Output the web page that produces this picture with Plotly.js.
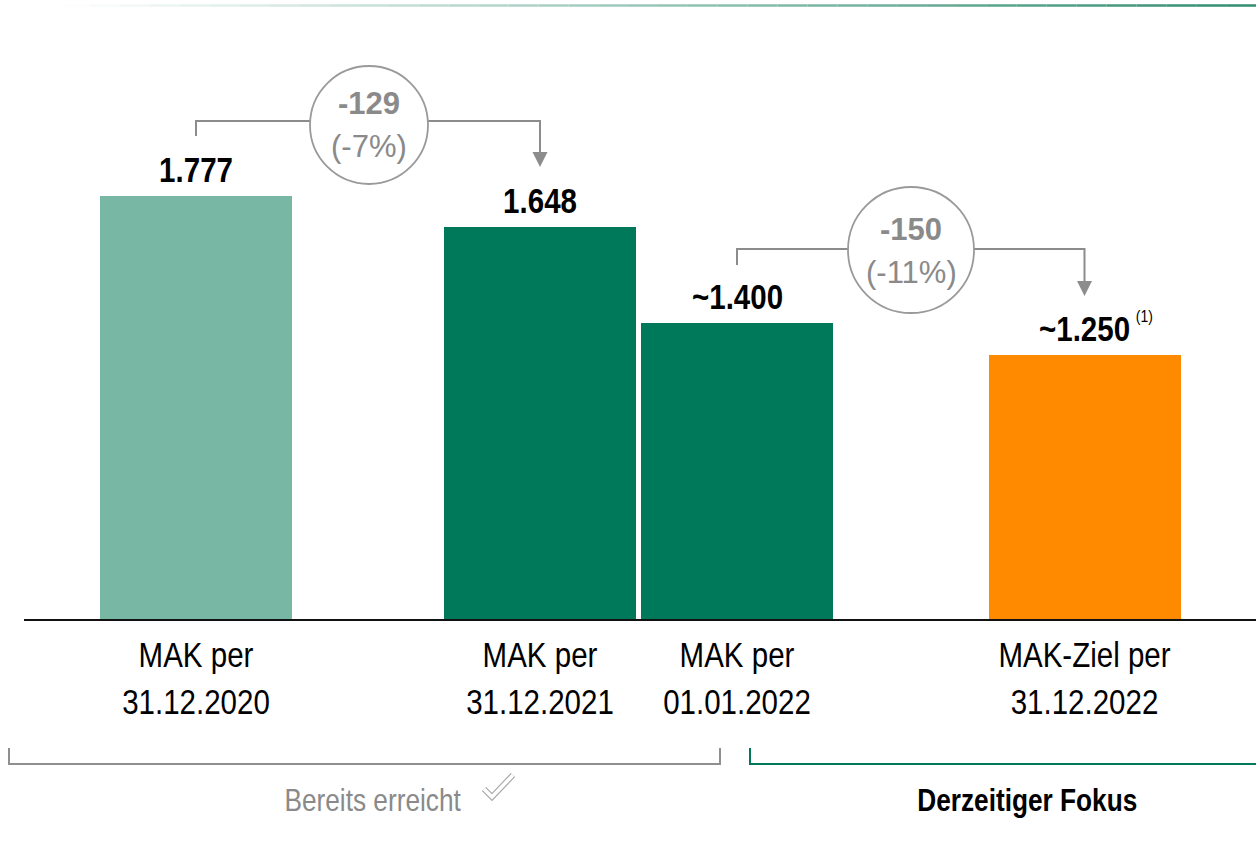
<!DOCTYPE html>
<html>
<head>
<meta charset="utf-8">
<script src="https://cdn.plot.ly/plotly-3.0.1.min.js"></script>
<style>
  html, body { margin: 0; padding: 0; background: #ffffff; }
  #chart { width: 1256px; height: 849px; }
</style>
</head>
<body>
<div id="chart"></div>
<script>
// ---------- DATA ----------
const categories = ["MAK per<br>31.12.2020", "MAK per<br>31.12.2021", "MAK per<br>01.01.2022", "MAK-Ziel per<br>31.12.2022"];
const headcount = [1777, 1648, 1400, 1250];
const approximate = [false, false, true, true];
const footnotes = ["", "", "", "(1)"];
const groupLabels = ["Bereits erreicht", "Derzeitiger Fokus"];

// ---------- LAYOUT / STYLE ----------
const W = 1256, H = 849;
const M = { l: 0, r: 0, t: 19, b: 230 };
const plotH = H - M.t - M.b;           // 600
const baseY = H - M.b;                  // 619 px
const slots = [196, 540, 737, 1084.5];  // bar centres (x axis units = px)
const barWidth = 192;
const axisOf = ["y", "y", "y2", "y2"];  // bars 3-4 drawn on a second scale, as in the original
const barColors = ["#79b7a5", "#00785a", "#00785a", "#ff8a00"];
const NARROW = "'Liberation Sans Narrow', 'Arial Narrow', 'Liberation Sans', Arial, sans-serif";
const REG = "'Liberation Sans', Arial, sans-serif";
const CONDENSE = 0.82;                  // horizontal squeeze to imitate a narrow face
const GREY_TXT = "#8a8a8a";
const GREY_LINE = "#8c8c8c";
const GREEN = "#00785a";

const py = p => (baseY - p) / plotH;   // pixel row -> paper y

function fmtDE(v) {
  return String(Math.round(Math.abs(v))).replace(/\B(?=(\d{3})+(?!\d))/g, ".");
}

// traces
const traces = [];
["y", "y2"].forEach(ax => {
  const idx = headcount.map((_, i) => i).filter(i => axisOf[i] === ax);
  traces.push({
    type: "bar",
    x: idx.map(i => slots[i]),
    y: idx.map(i => headcount[i]),
    width: idx.map(() => barWidth),
    yaxis: ax,
    marker: { color: idx.map(i => barColors[i]), line: { width: 0 } },
    hoverinfo: "skip",
    showlegend: false
  });
});

const annotations = [];
// value labels
headcount.forEach((v, i) => {
  annotations.push({
    x: slots[i], y: v, xref: "x", yref: axisOf[i],
    text: "<b>" + (approximate[i] ? "~" : "") + fmtDE(v) + "</b>",
    showarrow: false, yanchor: "bottom", xanchor: "center", yshift: 4,
    font: { family: NARROW, size: 36, color: "#000000" }
  });
  if (footnotes[i]) {
    annotations.push({
      x: slots[i] + 60, y: py(316), xref: "x", yref: "paper",
      text: footnotes[i], showarrow: false, xanchor: "center", yanchor: "middle",
      font: { family: NARROW, size: 17, color: "#000000" }
    });
  }
});

// change bubbles
const bubbles = [
  { from: 0, to: 1, cx: 369, cy: 125, r: 59, lineY: 121, leftTop: 136, tipY: 167, topLine: 103, botLine: 146 },
  { from: 2, to: 3, cx: 911, cy: 250, r: 63, lineY: 249, leftTop: 265, tipY: 296, topLine: 229, botLine: 272 }
];
const shapes = [];

// faint gradient rule at the top
const segN = 40, gx0 = 60, gx1 = 1256;
const c0 = [255, 255, 255], c1 = [46, 139, 110];
for (let k = 0; k < segN; k++) {
  const t = (k + 0.5) / segN;
  const c = c0.map((a, j) => Math.round(a + (c1[j] - a) * t));
  shapes.push({
    type: "line", xref: "x", yref: "paper",
    x0: gx0 + (gx1 - gx0) * k / segN, x1: gx0 + (gx1 - gx0) * (k + 1) / segN,
    y0: py(5.5), y1: py(5.5),
    line: { color: `rgb(${c[0]},${c[1]},${c[2]})`, width: 2.5 }, layer: "above"
  });
}

bubbles.forEach(b => {
  const xL = slots[b.from], xR = slots[b.to];
  shapes.push({
    type: "path", xref: "x", yref: "paper",
    path: `M ${xL} ${py(b.leftTop)} L ${xL} ${py(b.lineY)} L ${xR} ${py(b.lineY)} L ${xR} ${py(b.tipY - 14)}`,
    line: { color: GREY_LINE, width: 2 }, layer: "above"
  });
  shapes.push({
    type: "path", xref: "x", yref: "paper",
    path: `M ${xR - 7.5} ${py(b.tipY - 15)} L ${xR + 7.5} ${py(b.tipY - 15)} L ${xR} ${py(b.tipY)} Z`,
    fillcolor: GREY_LINE, line: { color: GREY_LINE, width: 0 }, layer: "above"
  });
  shapes.push({
    type: "circle", xref: "x", yref: "paper",
    x0: b.cx - b.r, x1: b.cx + b.r, y0: py(b.cy + b.r), y1: py(b.cy - b.r),
    fillcolor: "#ffffff", line: { color: "#9a9a9a", width: 1.8 }, layer: "above"
  });
  const d = headcount[b.to] - headcount[b.from];
  const pct = Math.round(d / headcount[b.from] * 100);
  annotations.push({
    x: b.cx, y: py(b.topLine), xref: "x", yref: "paper",
    text: "<b>" + (d < 0 ? "-" : "+") + fmtDE(d) + "</b>", showarrow: false,
    xanchor: "center", yanchor: "middle",
    font: { family: REG, size: 31, color: GREY_TXT }
  });
  annotations.push({
    x: b.cx, y: py(b.botLine), xref: "x", yref: "paper",
    text: "(" + (pct < 0 ? "-" : "+") + Math.abs(pct) + "%)", showarrow: false,
    xanchor: "center", yanchor: "middle",
    font: { family: REG, size: 31, color: GREY_TXT }
  });
});

// baseline
shapes.push({
  type: "line", xref: "x", yref: "paper", x0: 24, x1: 1256, y0: py(620), y1: py(620),
  line: { color: "#111111", width: 2 }, layer: "above"
});

// group brackets
shapes.push({
  type: "path", xref: "x", yref: "paper",
  path: `M 9 ${py(748)} L 9 ${py(764)} L 720 ${py(764)} L 720 ${py(748)}`,
  line: { color: "#8f8f8f", width: 2 }
});
shapes.push({
  type: "path", xref: "x", yref: "paper",
  path: `M 750 ${py(748)} L 750 ${py(764)} L 1256 ${py(764)}`,
  line: { color: GREEN, width: 2 }
});
// check mark (outlined)
const tick = `M 484 ${py(789)} L 492 ${py(797)} L 513 ${py(775)}`;
shapes.push({ type: "path", xref: "x", yref: "paper", path: tick, line: { color: "#a9a9a9", width: 6 } });
shapes.push({ type: "path", xref: "x", yref: "paper", path: tick, line: { color: "#ffffff", width: 3.6 } });

annotations.push({
  x: 372, y: py(800), xref: "x", yref: "paper", text: groupLabels[0], showarrow: false,
  xanchor: "center", yanchor: "middle", font: { family: NARROW, size: 32, color: GREY_TXT }
});
annotations.push({
  x: 1027, y: py(800), xref: "x", yref: "paper", text: "<b>" + groupLabels[1] + "</b>", showarrow: false,
  xanchor: "center", yanchor: "middle", font: { family: NARROW, size: 32, color: "#000000" }
});

const layout = {
  width: W, height: H,
  margin: M,
  paper_bgcolor: "#ffffff", plot_bgcolor: "#ffffff",
  showlegend: false,
  bargap: 0,
  barmode: "overlay",
  xaxis: {
    range: [0, W], fixedrange: true,
    tickmode: "array", tickvals: slots, ticktext: categories,
    tickfont: { family: NARROW, size: 36, color: "#000000" },
    showgrid: false, zeroline: false, showline: false, ticks: "",
    ticklabelstandoff: 11
  },
  yaxis: { range: [0, plotH / 0.2380], visible: false, fixedrange: true },
  yaxis2: { range: [0, plotH / 0.2113], overlaying: "y", visible: false, fixedrange: true },
  shapes: shapes,
  annotations: annotations
};

Plotly.newPlot("chart", traces, layout, { staticPlot: true, displayModeBar: false }).then(gd => {
  // squeeze the "narrow" texts horizontally around their own centre
  gd.querySelectorAll("text").forEach(el => {
    const ff = (el.style && el.style.fontFamily) || el.getAttribute("font-family") || "";
    if (ff.indexOf("Narrow") < 0) return;
    const bb = el.getBBox();
    const cx = bb.x + bb.width / 2;
    const prev = el.getAttribute("transform") || "";
    el.setAttribute("transform",
      `${prev} translate(${cx},0) scale(${CONDENSE},1) translate(${-cx},0)`.trim());
  });
});
</script>
</body>
</html>
